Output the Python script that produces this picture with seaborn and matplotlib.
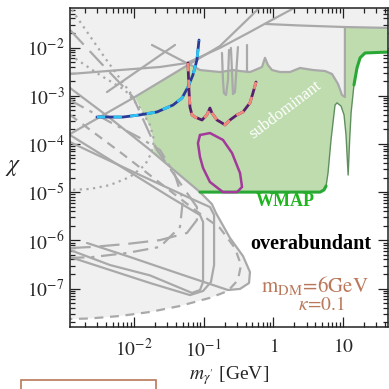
import matplotlib
matplotlib.use("Agg")
import matplotlib.pyplot as plt
import matplotlib.ticker as mticker
from matplotlib.patches import Rectangle
import seaborn as sns

# ---- data (x = m_gamma' [GeV], y = chi) ----
# subdominant (green) region
green_x = [1.03e-2, 1.22e-2, 1.44e-2, 1.70e-2, 1.87e-2, 1.87e-2, 2.0e-2, 8.85e-2, 4.67, 5.32,
           5.69, 6.07, 6.7, 7.65, 8.17, 9.33, 10.3, 11.0, 11.8, 12.4,
           13.0, 14.3, 15.8, 17.5, 20.6, 50, 50, 10.6, 10.6, 9.64,
           8.45, 6.93, 5.5, 3.70, 2.41, 1.73, 1.24, 0.955, 0.835, 0.757,
           0.686, 0.545, 0.461, 0.332, 0.263, 0.171, 0.123, 8.85e-2, 7.0e-2, 5.95e-2]
green_y = [9.4e-4, 5.8e-4, 3.6e-4, 2.24e-4, 1.39e-4, 9.5e-5, 6.18e-5, 1.0e-5, 1.0e-5, 1.11e-5,
           1.34e-5, 2.49e-5, 1.21e-4, 6.4e-4, 7.1e-4, 6.1e-4, 4.0e-4, 1.53e-4, 2.26e-5, 1.21e-4,
           4.4e-4, 1.67e-3, 3.76e-3, 6.1e-3, 7.7e-3, 8.1e-3, 2.66e-2, 2.66e-2, 9.4e-4, 1.03e-3,
           1.75e-3, 2.82e-3, 3.25e-3, 3.41e-3, 3.76e-3, 3.10e-3, 3.10e-3, 3.41e-3, 4.33e-3, 6.1e-3,
           3.94e-3, 3.41e-3, 3.10e-3, 3.25e-3, 3.41e-3, 3.10e-3, 3.25e-3, 3.41e-3, 4.13e-3, 4.6e-3]

# unconstrained (white) region, lower right
free_x = [50, 50, 20.6, 17.5, 15.8, 14.3, 13.0, 12.4, 11.8, 11.0, 10.3, 9.33, 8.17, 7.65, 6.7,
          6.07, 5.69, 5.32, 4.67, 8.85e-2, 0.131, 0.150, 0.238, 0.366, 0.461, 0.447, 0.332,
          0.223, 0.123, 4.57e-2, 1.70e-2, 6.3e-3, 2.34e-3, 1.21e-3, 1.0e-3, 1.0e-3]
free_y = [1.0e-8, 8.1e-3, 7.7e-3, 6.1e-3, 3.76e-3, 1.67e-3, 4.4e-4, 1.21e-4, 2.26e-5, 1.53e-4,
          4.0e-4, 6.1e-4, 7.1e-4, 6.4e-4, 1.21e-4, 2.49e-5, 1.34e-5, 1.11e-5, 1.0e-5, 1.0e-5,
          5.66e-6, 3.68e-6, 1.12e-6, 4.72e-7, 2.2e-7, 1.3e-7, 9.8e-8, 8.9e-8, 6.4e-8, 4.34e-8,
          3.26e-8, 2.69e-8, 2.39e-8, 2.33e-8, 2.33e-8, 1.0e-8]

# excluded-region boundary above the green region
bound_x = [1.81e-2, 5.95e-2, 7.0e-2, 8.85e-2, 0.123, 0.171, 0.263, 0.332, 0.461, 0.545, 0.686,
           0.757, 0.835, 0.955, 1.24, 1.73, 2.41, 3.70, 5.5, 6.93, 8.45, 9.64, 10.6, 10.6]
bound_y = [1.13e-2, 4.6e-3, 4.13e-3, 3.41e-3, 3.25e-3, 3.10e-3, 3.41e-3, 3.25e-3, 3.10e-3,
           3.41e-3, 3.94e-3, 6.1e-3, 4.33e-3, 3.41e-3, 3.10e-3, 3.10e-3, 3.76e-3, 3.41e-3,
           3.25e-3, 2.82e-3, 1.75e-3, 1.03e-3, 9.4e-4, 2.66e-2]
dip1_x = [0.183, 0.189, 0.195, 0.209, 0.223, 0.231]
dip1_y = [7.7e-3, 2.12e-3, 1.14e-3, 1.03e-3, 2.12e-3, 8.9e-3]
dip2_x = [0.246, 0.263, 0.281, 0.310]
dip2_y = [9.8e-3, 1.08e-3, 1.19e-3, 1.02e-2]
dip3_x = [0.418, 0.418]
dip3_y = [1.13e-2, 3.10e-3]
topline_x = [0.757, 2.41, 10.6, 50]
topline_y = [3.08e-2, 2.86e-2, 2.66e-2, 2.54e-2]

# other grey constraint curves
l1_x = [1.21e-3, 6.3e-3, 2.36e-2, 5.76e-2, 0.171, 0.461, 0.893, 1.98]
l1_y = [2.82e-3, 3.41e-3, 3.94e-3, 4.77e-3, 9.8e-3, 2.1e-2, 3.55e-2, 6.6e-2]
ld_x = [1.21e-3, 1.03e-2, 5.95e-2, 0.171, 0.493, 0.621]
ld_y = [1.60e-4, 9.4e-4, 4.33e-3, 1.07e-2, 4.7e-2, 6.6e-2]
lc_x = [4.10e-3, 3.88e-2]
lc_y = [1.19e-3, 1.13e-2]

lobe1_x = [1.21e-3, 6.3e-3, 3.29e-2, 8.85e-2, 9.8e-2, 9.8e-2, 8.85e-2, 6.79e-2, 1.70e-2, 4.53e-3, 1.21e-3]
lobe1_y = [1.53e-4, 3.48e-5, 7.9e-6, 3.35e-6, 2.4e-6, 1.36e-7, 9.3e-8, 8.1e-8, 1.87e-7, 3.07e-7, 6.3e-7]
lobe2_x = [1.21e-3, 1.22e-2, 6.36e-2, 0.123, 0.141, 0.141, 0.127, 9.8e-2, 6.36e-2, 1.70e-2, 4.53e-3, 1.21e-3]
lobe2_y = [1.09e-4, 2.26e-5, 7.5e-6, 4.9e-6, 3.35e-6, 3.07e-7, 1.36e-7, 8.9e-8, 7.3e-8, 1.3e-7, 2.42e-7, 4.5e-7]
lobe3_x = [1.21e-3, 4.53e-3, 1.70e-2, 8.85e-2, 0.131, 0.150, 0.238, 0.366, 0.461, 0.447, 0.332,
           0.223, 4.57e-2, 8.77e-3, 2.12e-3]
lobe3_y = [1.45e-3, 3.44e-4, 7.5e-5, 1.0e-5, 5.66e-6, 3.68e-6, 1.12e-6, 4.72e-7, 2.2e-7, 1.3e-7,
           9.8e-8, 9.3e-8, 2.0e-7, 4.5e-7, 8.8e-7]
dash_x = [1.21e-3, 6.3e-3, 2.36e-2, 7.5e-2, 0.171, 0.281, 0.343, 0.310, 0.223, 0.123, 4.57e-2,
          1.70e-2, 6.3e-3, 2.34e-3, 1.21e-3]
dash_y = [4.0e-4, 6.8e-5, 1.55e-5, 4.25e-6, 1.8e-6, 6.9e-7, 3.07e-7, 1.5e-7, 8.9e-8, 6.4e-8,
          4.34e-8, 3.26e-8, 2.69e-8, 2.39e-8, 2.33e-8]
longdash_x = [1.21e-3, 3.25e-3, 9.7e-3, 2.14e-2, 4.57e-2, 8.0e-2, 8.0e-2, 5.76e-2, 2.36e-2, 7.9e-3, 2.58e-3, 1.21e-3]
longdash_y = [2.31e-2, 5.0e-3, 9.4e-4, 7.5e-5, 1.55e-5, 4.9e-6, 2.64e-6, 1.42e-6, 1.01e-6, 8.4e-7, 7.3e-7, 6.9e-7]
dashdot_x = [1.21e-3, 4.53e-3, 1.22e-2, 2.36e-2, 3.88e-2, 5.04e-2, 4.57e-2, 2.36e-2, 7.9e-3, 2.58e-3, 1.21e-3]
dashdot_y = [8.1e-4, 2.84e-4, 1.33e-4, 7.5e-5, 2.26e-5, 6.9e-6, 1.89e-6, 7.3e-7, 5.45e-7, 4.5e-7, 4.3e-7]
dot1_x = [1.21e-3, 3.25e-3, 7.43e-3, 1.22e-2, 1.70e-2, 1.94e-2, 1.81e-2, 1.44e-2, 8.77e-3, 4.53e-3, 2.34e-3, 1.21e-3]
dot1_y = [7.0e-3, 2.69e-3, 1.31e-3, 5.56e-4, 2.47e-4, 1.21e-4, 6.8e-5, 3.65e-5, 2.06e-5, 1.40e-5, 1.16e-5, 1.11e-5]
dot2_x = [1.29e-3, 3.84e-3, 9.36e-3]
dot2_y = [6.0e-2, 6.1e-3, 1.03e-3]

# WMAP relic line
wmap_x = [8.85e-2, 4.67, 5.32, 5.69]
wmap_y = [1.0e-5, 1.0e-5, 1.11e-5, 1.34e-5]
wall_x = [5.69, 6.07, 6.7, 7.65, 8.17, 9.33, 10.3, 11.0, 11.8, 12.4, 13.0, 14.3, 15.8]
wall_y = [1.34e-5, 2.49e-5, 1.21e-4, 6.4e-4, 7.1e-4, 6.1e-4, 4.0e-4, 1.53e-4, 2.26e-5, 1.21e-4, 4.4e-4, 1.67e-3, 3.76e-3]
wmap2_x = [14.3, 15.8, 17.5, 20.6, 50]
wmap2_y = [1.67e-3, 3.76e-3, 6.1e-3, 7.7e-3, 8.1e-3]

# coloured curves
blue_x = [2.94e-3, 6.95e-3, 1.22e-2, 2.14e-2, 3.63e-2, 4.89e-2, 5.95e-2, 7.0e-2, 8.0e-2, 8.57e-2]
blue_y = [3.61e-4, 3.61e-4, 4.0e-4, 4.6e-4, 6.4e-4, 8.95e-4, 1.51e-3, 2.69e-3, 5.5e-3, 1.43e-2]
pink_x = [5.95e-2, 6.15e-2, 6.36e-2, 6.79e-2, 7.5e-2, 9.46e-2, 0.111, 0.123, 0.131, 0.155,
          0.183, 0.202, 0.238, 0.300, 0.366, 0.461, 0.509, 0.563]
pink_y = [4.77e-3, 1.31e-3, 5.8e-4, 4.0e-4, 3.61e-4, 3.13e-4, 4.0e-4, 5.56e-4, 4.4e-4, 3.13e-4,
          2.72e-4, 2.47e-4, 3.13e-4, 4.0e-4, 4.6e-4, 7.1e-4, 1.14e-3, 1.92e-3]
loop_x = [8.85e-2, 0.123, 0.189, 0.255, 0.332, 0.355, 0.300, 0.189, 0.123, 9.8e-2, 8.85e-2, 8.28e-2, 8.85e-2]
loop_y = [1.53e-4, 1.68e-4, 1.21e-4, 6.47e-5, 2.49e-5, 1.28e-5, 1.0e-5, 1.0e-5, 1.62e-5, 3.16e-5, 5.35e-5, 1.04e-4, 1.53e-4]

x_ticks = [1e-2, 1e-1, 1, 10]
x_ticklabels = [r"$10^{-2}$", r"$10^{-1}$", r"$1$", r"$10$"]
y_ticks = [1e-7, 1e-6, 1e-5, 1e-4, 1e-3, 1e-2]
y_ticklabels = [r"$10^{-7}$", r"$10^{-6}$", r"$10^{-5}$", r"$10^{-4}$", r"$10^{-3}$", r"$10^{-2}$"]

# ---- style ----
sns.set_style("ticks")
plt.rcParams["font.family"] = ["Liberation Serif", "DejaVu Serif"]
plt.rcParams["mathtext.fontset"] = "stix"

GREY = "#a9a9a9"
BROWN = "#b9785a"

fig = plt.figure(figsize=(3.89, 3.89), dpi=100)
ax = fig.add_axes([70 / 389, 62 / 389, 318 / 389, 319 / 389])
ax.set_xscale("log")
ax.set_yscale("log")
ax.set_facecolor("#f0f0f0")

ax.fill(free_x, free_y, color="white", lw=0, zorder=0.5)
ax.fill(green_x, green_y, color="#bedcae", lw=0, zorder=0.6)


def grey(xs, ys, ls="-"):
    sns.lineplot(x=xs, y=ys, sort=False, estimator=None, color=GREY, lw=1.6,
                 linestyle=ls, ax=ax, zorder=2)


grey(bound_x, bound_y)
grey(dip1_x, dip1_y)
grey(dip2_x, dip2_y)
grey(dip3_x, dip3_y)
grey(topline_x, topline_y)
grey(l1_x, l1_y)
grey(ld_x, ld_y)
grey(lc_x, lc_y)
grey(lobe1_x, lobe1_y)
grey(lobe2_x, lobe2_y)
grey(lobe3_x, lobe3_y)
grey(dash_x, dash_y, (0, (4, 3)))
grey(longdash_x, longdash_y, (0, (9, 4)))
grey(dashdot_x, dashdot_y, (0, (7, 3, 1.5, 3)))
grey(dot1_x, dot1_y, (0, (1, 2)))
grey(dot2_x, dot2_y, (0, (1, 2)))

sns.lineplot(x=wall_x, y=wall_y, sort=False, estimator=None, color="#5f8f5f", lw=1.0, ax=ax, zorder=3)
sns.lineplot(x=wmap_x, y=wmap_y, sort=False, estimator=None, color="#2aa836", lw=2.2, ax=ax, zorder=3)
sns.lineplot(x=wmap2_x, y=wmap2_y, sort=False, estimator=None, color="#2aa836", lw=2.2, ax=ax, zorder=3)

sns.lineplot(x=blue_x, y=blue_y, sort=False, estimator=None, color="#2b3a96", lw=2.0, ax=ax, zorder=4)
sns.lineplot(x=blue_x, y=blue_y, sort=False, estimator=None, color="#2ec4f2", lw=2.0,
             linestyle=(0, (3, 3)), ax=ax, zorder=4)
sns.lineplot(x=pink_x, y=pink_y, sort=False, estimator=None, color="#5a1f6c", lw=2.0, ax=ax, zorder=4)
sns.lineplot(x=pink_x, y=pink_y, sort=False, estimator=None, color="#f2897a", lw=2.0,
             linestyle=(0, (3, 3)), ax=ax, zorder=4)
sns.lineplot(x=loop_x, y=loop_y, sort=False, estimator=None, color="#a3399b", lw=1.8, ax=ax, zorder=4)

ax.set_xlim(1.21e-3, 44)
ax.set_ylim(1.59e-8, 6.6e-2)

ax.xaxis.set_major_locator(mticker.FixedLocator(x_ticks))
ax.xaxis.set_major_formatter(mticker.FixedFormatter(x_ticklabels))
ax.yaxis.set_major_locator(mticker.FixedLocator(y_ticks))
ax.yaxis.set_major_formatter(mticker.FixedFormatter(y_ticklabels))
ax.xaxis.set_minor_locator(mticker.LogLocator(base=10, subs=range(2, 10), numticks=20))
ax.yaxis.set_minor_locator(mticker.LogLocator(base=10, subs=range(2, 10), numticks=20))
ax.xaxis.set_minor_formatter(mticker.NullFormatter())
ax.yaxis.set_minor_formatter(mticker.NullFormatter())
ax.tick_params(which="both", direction="in", top=True, right=True, color="#222222", width=0.9)
ax.tick_params(which="major", length=7, labelsize=14)
ax.tick_params(which="minor", length=3.5)
ax.tick_params(axis="x", which="major", pad=8)
ax.tick_params(axis="y", which="major", pad=4)
for s in ax.spines.values():
    s.set_color("#222222")
    s.set_linewidth(1.1)
    s.set_zorder(6)

ax.set_xlabel(r"$m_{\gamma'}$ [GeV]", fontsize=14)
ax.xaxis.set_label_coords(0.5, -0.115)
ax.set_ylabel(r"$\chi$", fontsize=17, rotation=0, ha="center", va="center")
ax.yaxis.set_label_coords(-0.178, 0.5)

ax.text(1.47, 5.0e-4, "subdominant", color="white", fontsize=12, rotation=37,
        ha="center", va="center", zorder=5)
ax.text(1.47, 6.24e-6, "WMAP", color="#1fb51f", fontsize=13, fontweight="bold",
        ha="center", va="center", zorder=5)
ax.text(3.46, 8.4e-7, "overabundant", color="black", fontsize=14.5, fontweight="bold",
        ha="center", va="center", zorder=5)
ax.text(3.95, 1.13e-7, r"$\mathrm{m_{DM}}\!=\!6\mathrm{GeV}$", color=BROWN, fontsize=15,
        ha="center", va="center", zorder=5)
ax.text(4.98, 4.55e-8, r"$\kappa\!=\!0.1$", color=BROWN, fontsize=14,
        ha="center", va="center", zorder=5)

fig.patches.append(Rectangle((21 / 389, -0.05), 135 / 389, 9 / 389 + 0.05, fill=False,
                             ec=BROWN, lw=1.2, transform=fig.transFigure, figure=fig))

fig.savefig("out.png", dpi=100)
